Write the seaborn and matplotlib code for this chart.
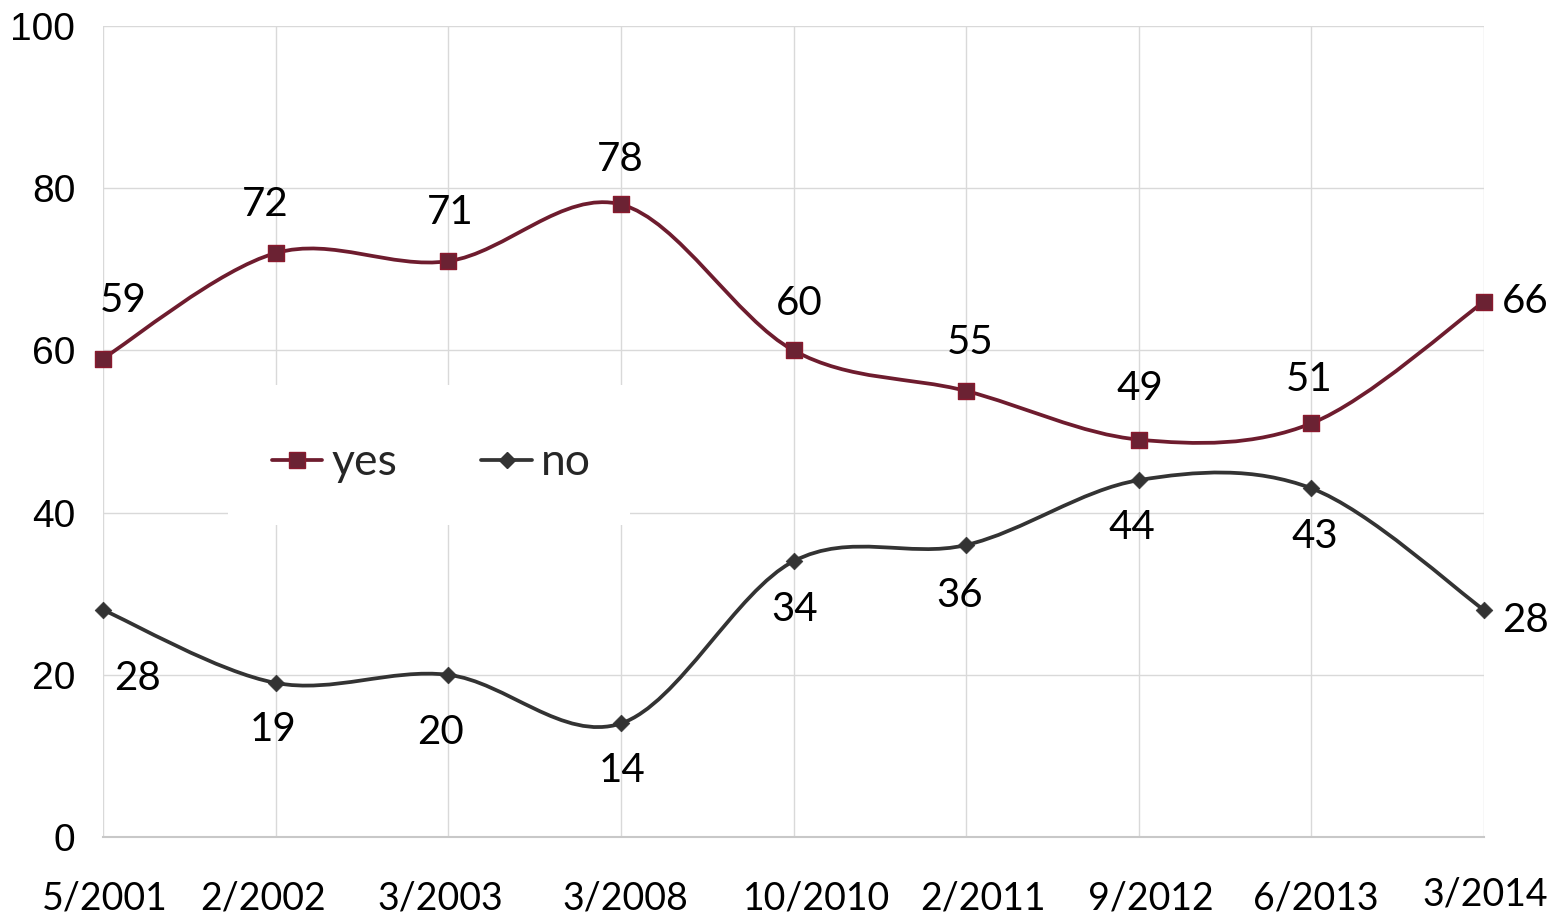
import numpy as np
import pandas as pd
import matplotlib
matplotlib.use("Agg")
import matplotlib.pyplot as plt
import matplotlib.transforms as mtrans
import seaborn as sns
from matplotlib.path import Path
from matplotlib.patches import PathPatch, Rectangle
from matplotlib.lines import Line2D

# ---- data ----
dates = ["5/2001", "2/2002", "3/2003", "3/2008", "10/2010",
         "2/2011", "9/2012", "6/2013", "3/2014"]
yes_vals = [59, 72, 71, 78, 60, 55, 49, 51, 66]
no_vals = [28, 19, 20, 14, 34, 36, 44, 43, 28]
y_ticks = [0, 20, 40, 60, 80, 100]

# ---- style ----
YES_LINE = "#6E1C2E"
YES_FACE = "#6B2233"
YES_EDGE = "#8A1A2E"
NO_COLOR = "#333333"
GRID = "#D9D9D9"

# label offsets in pixels (dx, dy) relative to each point
yes_off = [(20, 58), (-10, 49), (2, 49), (-1, 45), (6, 47), (4, 48), (1, 51), (-2, 44), (41, 0)]
no_off = [(35, -69), (-3, -47), (-8, -58), (1, -47), (1, -48), (-6, -50), (-7, -47), (3, -48), (41, -11)]
# x tick label nudges in pixels (dx, dy)
xlab_off = [(2, 0), (-13, 0), (-8, 0), (5, 0), (23, 0), (17, 0), (12, 0), (4, 0), (1, 4)]

sns.set_theme(style="white")
plt.rcParams["font.family"] = ["Lato", "DejaVu Sans"]

W, H = 1561, 915
fig = plt.figure(figsize=(W / 100, H / 100), dpi=100)
ax = fig.add_axes([103 / W, 1 - 837 / H, 1381 / W, 811 / H])

n = len(dates)
pos = list(range(n))
df = pd.DataFrame({"pos": pos * 2,
                   "value": yes_vals + no_vals,
                   "series": ["yes"] * n + ["no"] * n})


def smooth_path(xs, ys):
    pts = np.column_stack([xs, ys]).astype(float)
    ext = np.vstack([pts[0], pts, pts[-1]])
    verts = [pts[0]]
    codes = [Path.MOVETO]
    for i in range(len(pts) - 1):
        p0, p1, p2, p3 = ext[i], ext[i + 1], ext[i + 2], ext[i + 3]
        c1 = p1 + (p2 - p0) / 6.0
        c2 = p2 - (p3 - p1) / 6.0
        verts += [c1, c2, p2]
        codes += [Path.CURVE4] * 3
    return Path(verts, codes)


ax.set_xlim(0, n - 1)
ax.set_ylim(0, 100)

# white background behind legend (covers grid)
ax.add_patch(Rectangle((125 / 1381, (837 - 525) / 811), 402 / 1381, 140 / 811,
                       transform=ax.transAxes, facecolor="white",
                       edgecolor="none", zorder=1))

for sub, col in [("yes", YES_LINE), ("no", NO_COLOR)]:
    d = df[df["series"] == sub]
    ax.add_patch(PathPatch(smooth_path(d["pos"], d["value"]), facecolor="none",
                           edgecolor=col, lw=2.7, zorder=3, capstyle="round",
                           joinstyle="round"))

sns.scatterplot(data=df[df["series"] == "yes"], x="pos", y="value", marker="s",
                s=125, color=YES_FACE, edgecolor=YES_EDGE, linewidth=1,
                ax=ax, zorder=4, legend=False, clip_on=False)
sns.scatterplot(data=df[df["series"] == "no"], x="pos", y="value", marker="D",
                s=72, color=NO_COLOR, edgecolor=NO_COLOR, linewidth=0.5,
                ax=ax, zorder=4, legend=False, clip_on=False)

px2pt = 72 / 100
for vals, offs in [(yes_vals, yes_off), (no_vals, no_off)]:
    for i, (v, (dx, dy)) in enumerate(zip(vals, offs)):
        ax.annotate(str(v), (i, v), xytext=(dx * px2pt, dy * px2pt),
                    textcoords="offset points", ha="center", va="center",
                    fontsize=29, color="black", zorder=5,
                    annotation_clip=False)

# axes styling
ax.set_xticks(pos)
ax.set_xticklabels(dates, fontsize=27, fontfamily=["Lato", "DejaVu Sans"])
ax.set_yticks(y_ticks)
ax.set_yticklabels([str(t) for t in y_ticks], fontsize=28,
                   fontfamily=["Liberation Sans", "DejaVu Sans"])
ax.tick_params(axis="y", length=0, pad=20, colors="black")
ax.tick_params(axis="x", length=0, pad=31, colors="black")
ax.set_xlabel("")
ax.set_ylabel("")
ax.set_axisbelow(True)
ax.grid(True, color=GRID, lw=1.0)
for s in ["top", "right", "left"]:
    ax.spines[s].set_visible(False)
ax.spines["bottom"].set_color("#C8C8C8")
ax.spines["bottom"].set_linewidth(1.5)

for lab, (dx, dy) in zip(ax.get_xticklabels(), xlab_off):
    lab.set_transform(lab.get_transform() +
                      mtrans.ScaledTranslation(dx / 100, dy / 100, fig.dpi_scale_trans))

handles = [
    Line2D([], [], color=YES_LINE, lw=2.7, marker="s", markersize=11,
           markerfacecolor=YES_FACE, markeredgecolor=YES_EDGE, markeredgewidth=1),
    Line2D([], [], color=NO_COLOR, lw=2.7, marker="D", markersize=8.5,
           markerfacecolor=NO_COLOR, markeredgecolor=NO_COLOR),
]
ax.legend(handles, ["yes", "no"], loc="center left",
          bbox_to_anchor=((272 - 103) / 1381, (837 - 463) / 811),
          ncol=2, frameon=False, fontsize=32, borderpad=0, borderaxespad=0,
          handlelength=1.13, handletextpad=0.2, columnspacing=1.9)

fig.savefig("out.png", dpi=100, facecolor="white")
